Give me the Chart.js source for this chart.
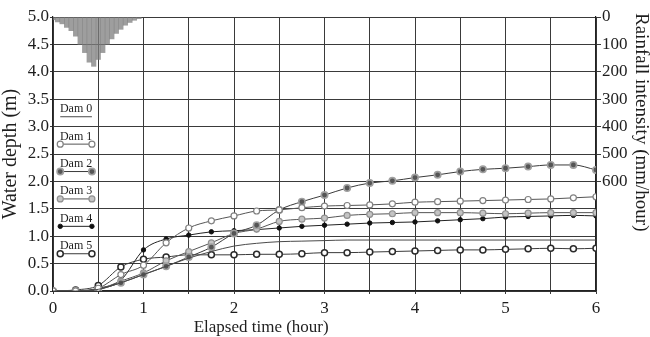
<!DOCTYPE html>
<html><head><meta charset="utf-8">
<script src="https://cdn.jsdelivr.net/npm/chart.js@4.4.1/dist/chart.umd.min.js"></script>
<style>html,body{margin:0;padding:0;background:#fff}canvas{display:block}</style>
</head><body>
<canvas id="c" width="650" height="337"></canvas>
<script>
// ---- data ----
const timeHours = [0,0.25,0.5,0.75,1,1.25,1.5,1.75,2,2.25,2.5,2.75,3,3.25,3.5,3.75,4,4.25,4.5,4.75,5,5.25,5.5,5.75,6];
const seriesNames = ['Dam 0','Dam 1','Dam 2','Dam 3','Dam 4','Dam 5'];
const dam0 = [0,0,0.03,0.15,0.3,0.45,0.6,0.72,0.82,0.87,0.9,0.91,0.92,0.93,0.93,0.93,0.93,0.93,0.93,0.93,0.93,0.93,0.93,0.93,0.93];
const dam1 = [0,0,0.05,0.3,0.47,0.88,1.15,1.28,1.37,1.46,1.48,1.52,1.55,1.56,1.57,1.59,1.62,1.63,1.64,1.65,1.66,1.67,1.68,1.7,1.72];
const dam2 = [0,0,0.03,0.15,0.3,0.45,0.62,0.8,1.05,1.2,1.48,1.63,1.75,1.88,1.97,2.01,2.07,2.12,2.18,2.22,2.24,2.27,2.3,2.3,2.21];
const dam3 = [0,0,0.03,0.18,0.33,0.55,0.72,0.88,1.05,1.13,1.27,1.31,1.33,1.38,1.4,1.41,1.43,1.43,1.43,1.42,1.41,1.42,1.43,1.43,1.43];
const dam4 = [0,0,0.05,0.2,0.75,0.95,1.02,1.08,1.1,1.12,1.15,1.18,1.2,1.22,1.24,1.25,1.26,1.28,1.3,1.32,1.35,1.36,1.37,1.38,1.37];
const dam5 = [0,0.02,0.1,0.44,0.58,0.62,0.66,0.66,0.66,0.67,0.67,0.68,0.7,0.7,0.71,0.72,0.73,0.74,0.75,0.75,0.76,0.77,0.78,0.77,0.78];
const rainTimes = [0,0.05,0.1,0.15,0.2,0.25,0.3,0.35,0.4,0.45,0.5,0.55,0.6,0.65,0.7,0.75,0.8,0.85,0.9,0.95];
const rainIntensity = [10,18,25,38,50,70,100,130,165,180,155,130,100,80,60,45,30,20,12,6];
const xTickLabels = ['0','1','2','3','4','5','6'];
const rainTickLabels = ['0','100','200','300','400','500','600'];
const xTitle = 'Elapsed time (hour)';
const yTitle = 'Water depth (m)';
const y2Title = 'Rainfall intensity (mm/hour)';

const FONT = "'Liberation Serif', 'Times New Roman', serif";
const INK = '#1e1e1e';
const GRID = '#3a3a3a';

const damValues = [dam0, dam1, dam2, dam3, dam4, dam5];
const damStyles = [
  {line:'#4a4a4a', r:0,   bg:'#444', bd:'#444', bw:1},
  {line:'#555', r:3, bg:'#ffffff', bd:'#808080', bw:1.2},
  {line:'#3a3a3a', r:3.2, bg:'#555555', bd:'#a0a0a0', bw:1.6},
  {line:'#555', r:3, bg:'#c4c4c4', bd:'#909090', bw:1.2},
  {line:'#222', r:2.2, bg:'#111111', bd:'#111111', bw:1},
  {line:'#3a3a3a', r:3, bg:'#ffffff', bd:'#2a2a2a', bw:1.5}
];

const datasets = damValues.map((vals, i) => ({
  type: 'line',
  label: seriesNames[i],
  data: timeHours.map((t, k) => ({x: t, y: vals[k]})),
  yAxisID: 'y',
  borderColor: damStyles[i].line,
  borderWidth: 1,
  pointRadius: damStyles[i].r,
  pointBackgroundColor: damStyles[i].bg,
  pointBorderColor: damStyles[i].bd,
  pointBorderWidth: damStyles[i].bw,
  cubicInterpolationMode: 'monotone',
  fill: false,
  order: 1
}));
datasets.push({
  type: 'bar',
  label: 'Rainfall',
  data: rainTimes.map((t, k) => ({x: t, y: rainIntensity[k]})),
  yAxisID: 'yR',
  backgroundColor: 'rgba(125,125,125,0.75)',
  borderWidth: 0,
  barPercentage: 1,
  categoryPercentage: 1,
  order: 10
});

const overlayPlugin = {
  id: 'overlay',
  afterDatasetsDraw(chart) {
    const {ctx} = chart;
    const xs = chart.scales.x, ys = chart.scales.y;
    ctx.save();
    for (let i = 0; i < 6; i++) {
      const st = damStyles[i];
      const yText = ys.getPixelForValue(3.32 - 0.5 * i);
      const yLine = ys.getPixelForValue(3.18 - 0.5 * i);
      const x0 = xs.getPixelForValue(0.08), x1 = xs.getPixelForValue(0.43);
      ctx.fillStyle = INK;
      ctx.font = '12px ' + FONT;
      ctx.textAlign = 'center';
      ctx.textBaseline = 'middle';
      ctx.fillText(seriesNames[i], (x0 + x1) / 2, yText);
      ctx.strokeStyle = st.line;
      ctx.lineWidth = 1;
      ctx.beginPath(); ctx.moveTo(x0, yLine); ctx.lineTo(x1, yLine); ctx.stroke();
      if (st.r > 0) {
        [x0, x1].forEach(px => {
          ctx.beginPath();
          ctx.arc(px, yLine, st.r, 0, Math.PI * 2);
          ctx.fillStyle = st.bg; ctx.fill();
          ctx.lineWidth = st.bw; ctx.strokeStyle = st.bd; ctx.stroke();
        });
      }
    }
    ctx.restore();
  },
  afterDraw(chart) {
    const {ctx, chartArea} = chart;
    const xs = chart.scales.x;
    ctx.save();
    ctx.fillStyle = INK;
    ctx.font = '17px ' + FONT;
    ctx.textAlign = 'center';
    ctx.textBaseline = 'middle';
    ctx.fillText(xTitle, xs.getPixelForValue(2.3), chartArea.bottom + 37);
    ctx.translate(chart.width - 9, chartArea.top - 4);
    ctx.rotate(Math.PI / 2);
    ctx.font = '19px ' + FONT;
    ctx.textAlign = 'left';
    ctx.fillText(y2Title, 0, 0);
    ctx.restore();
  }
};

new Chart(document.getElementById('c'), {
  type: 'line',
  data: {datasets},
  plugins: [overlayPlugin],
  options: {
    responsive: false,
    animation: false,
    layout: {padding: {top: 17, left: 0, right: 0, bottom: 0}},
    plugins: {legend: {display: false}, tooltip: {enabled: false}, title: {display: false}},
    scales: {
      x: {
        type: 'linear', min: 0, max: 6, offset: false,
        afterFit(s) { s.height = 46; },
        ticks: {
          stepSize: 0.5, autoSkip: false, maxRotation: 0, padding: 4,
          color: INK, font: {family: FONT, size: 17},
          callback: v => Number.isInteger(v) ? xTickLabels[v] : ''
        },
        grid: {color: GRID, lineWidth: 1, tickLength: 3, offset: false},
        border: {color: '#222', width: 1.2}
      },
      y: {
        type: 'linear', position: 'left', min: 0, max: 5,
        afterFit(s) { s.width = 53; },
        ticks: {
          stepSize: 0.5, padding: 1, color: INK, font: {family: FONT, size: 17},
          callback: v => v.toFixed(1)
        },
        grid: {color: GRID, lineWidth: 1, tickLength: 3},
        border: {color: '#222', width: 1.2},
        title: {display: true, text: yTitle, color: INK, font: {family: FONT, size: 20, lineHeight: 1}, padding: 1}
      },
      yR: {
        type: 'linear', position: 'right', min: 0, max: 1000, reverse: true,
        afterFit(s) { s.width = 54; },
        ticks: {
          stepSize: 100, padding: 1, color: INK, font: {family: FONT, size: 17},
          callback: v => (v / 100 < rainTickLabels.length) ? rainTickLabels[v / 100] : ''
        },
        grid: {drawOnChartArea: false, tickLength: 5, color: ctx => (ctx.tick && ctx.tick.value <= 600) ? GRID : 'rgba(0,0,0,0)'},
        border: {color: '#222', width: 1.2}
      }
    }
  }
});
</script>
</body></html>
